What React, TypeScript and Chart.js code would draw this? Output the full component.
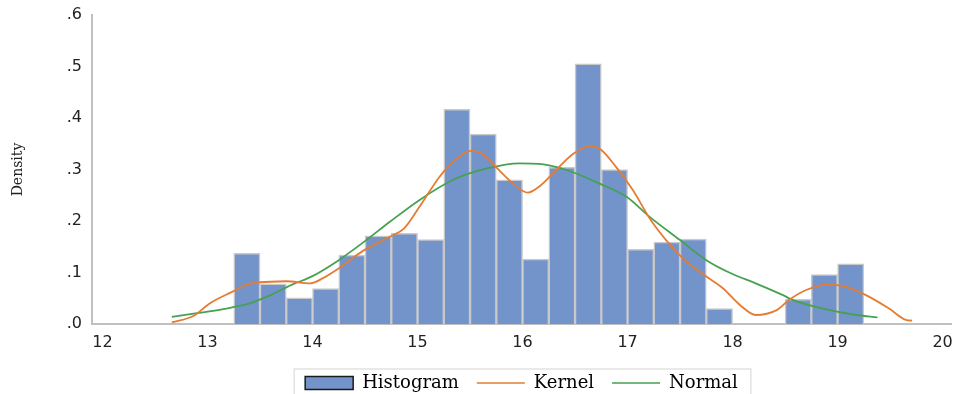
import React, { useEffect, useRef } from "react";
import { Chart, registerables } from "chart.js";

Chart.register(...registerables);

// Histogram bins (width 0.25), given by their centres
const binCenters = [
  13.375, 13.625, 13.875, 14.125, 14.375, 14.625, 14.875, 15.125,
  15.375, 15.625, 15.875, 16.125, 16.375, 16.625, 16.875, 17.125,
  17.375, 17.625, 17.875, 18.125, 18.375, 18.625, 18.875, 19.125,
];
const histDensity = [
  0.137, 0.078, 0.051, 0.069, 0.134, 0.171, 0.176, 0.164,
  0.417, 0.369, 0.28, 0.126, 0.304, 0.505, 0.3, 0.145,
  0.159, 0.165, 0.03, 0, 0, 0.048, 0.096, 0.117,
];

// Kernel density estimate
const kernelX = [
  12.66, 12.87, 13.02, 13.23, 13.4, 13.6, 13.75, 13.98, 14.1, 14.25,
  14.48, 14.74, 14.87, 15.02, 15.21, 15.34, 15.51, 15.62, 15.76, 15.91,
  16.05, 16.16, 16.32, 16.48, 16.65, 16.75, 16.89, 17.05, 17.23, 17.51,
  17.73, 17.91, 18.07, 18.22, 18.42, 18.54, 18.7, 18.92, 19.08, 19.27,
  19.49, 19.65, 19.71,
];
const kernelY = [
  0.003, 0.016, 0.04, 0.062, 0.078, 0.082, 0.083, 0.079, 0.089, 0.108,
  0.142, 0.17, 0.185, 0.228, 0.286, 0.315, 0.336, 0.33, 0.302, 0.273,
  0.255, 0.267, 0.299, 0.33, 0.346, 0.338, 0.305, 0.26, 0.199, 0.131,
  0.095, 0.069, 0.037, 0.0175, 0.027, 0.047, 0.066, 0.077, 0.072, 0.056,
  0.03, 0.008, 0.0065,
];

// Fitted normal density
const normalX = [
  12.66, 12.9, 13.15, 13.4, 13.6, 13.8, 14.0, 14.25, 14.48,
  14.74, 15.02, 15.34, 15.66, 15.97, 16.16, 16.42, 16.74, 16.99, 17.21,
  17.5, 17.75, 18.0, 18.22, 18.48, 18.57, 18.86, 19.18, 19.38,
];
const normalY = [
  0.014, 0.021, 0.029, 0.04, 0.056, 0.076, 0.093, 0.124, 0.158,
  0.199, 0.241, 0.28, 0.302, 0.312, 0.311, 0.299, 0.272, 0.247, 0.208,
  0.163, 0.124, 0.097, 0.079, 0.056, 0.047, 0.03, 0.0175, 0.013,
];

const xTickValues = [12, 13, 14, 15, 16, 17, 18, 19, 20];
const yTickValues = [0, 0.1, 0.2, 0.3, 0.4, 0.5, 0.6];
const legendLabels = ["Histogram", "Kernel", "Normal"];
const yAxisTitle = "Density";

const BAR_FILL = "#7393cb";
const BAR_EDGE = "#c9c9c9";
const KERNEL = "#e57c34";
const NORMAL = "#46a150";
const AXIS = "#c0c0c0";

// Thin frame around the legend row
const legendFrame = {
  id: "legendFrame",
  afterDraw(chart: any) {
    const lg = chart.legend;
    if (!lg || !lg.legendHitBoxes || !lg.legendHitBoxes.length) return;
    const boxes = lg.legendHitBoxes;
    const first = boxes[0];
    const last = boxes[boxes.length - 1];
    const left = first.left - 11;
    const right = last.left + last.width + 13;
    const top = first.top - 5;
    const ctx = chart.ctx;
    ctx.save();
    ctx.strokeStyle = "#e2e2e2";
    ctx.lineWidth = 1.5;
    ctx.strokeRect(left, top, right - left, chart.height - top + 20);
    ctx.restore();
  },
};

export default function App() {
  const canvasRef = useRef<HTMLCanvasElement | null>(null);

  useEffect(() => {
    if (!canvasRef.current) return;
    const chart = new Chart(canvasRef.current, {
      type: "bar",
      data: {
        datasets: [
          {
            type: "bar",
            label: legendLabels[0],
            data: binCenters.map((x, i) => ({ x, y: histDensity[i] })),
            backgroundColor: BAR_FILL,
            borderColor: BAR_EDGE,
            borderWidth: 1.5,
            barPercentage: 1,
            categoryPercentage: 1,
            order: 3,
          },
          {
            type: "line",
            label: legendLabels[1],
            data: kernelX.map((x, i) => ({ x, y: kernelY[i] })),
            borderColor: KERNEL,
            borderWidth: 1.8,
            pointRadius: 0,
            cubicInterpolationMode: "monotone",
            fill: false,
            order: 1,
          },
          {
            type: "line",
            label: legendLabels[2],
            data: normalX.map((x, i) => ({ x, y: normalY[i] })),
            borderColor: NORMAL,
            borderWidth: 1.8,
            pointRadius: 0,
            cubicInterpolationMode: "monotone",
            fill: false,
            order: 2,
          },
        ] as any,
      },
      options: {
        animation: false,
        responsive: false,
        devicePixelRatio: 1,
        events: [],
        layout: { padding: { top: 15, right: 5, left: 0, bottom: 0 } },
        scales: {
          x: {
            type: "linear",
            min: 11.9,
            max: 20.08,
            offset: false,
            grid: { display: false, drawTicks: false },
            border: { display: true, color: AXIS, width: 2 },
            afterBuildTicks: (scale: any) => {
              scale.ticks = xTickValues.map((v) => ({ value: v }));
            },
            afterFit: (scale: any) => {
              scale.height = 32;
              scale.paddingLeft = 0;
              scale.paddingRight = 0;
            },
            ticks: {
              padding: 9,
              color: "#222",
              font: { family: "DejaVu Sans", size: 16 },
              maxRotation: 0,
              autoSkip: false,
              callback: (v: any) => String(v),
            },
          },
          y: {
            min: 0,
            max: 0.6,
            grid: { display: false, drawTicks: false },
            border: { display: true, color: AXIS, width: 2 },
            afterBuildTicks: (scale: any) => {
              scale.ticks = yTickValues.map((v) => ({ value: v }));
            },
            afterFit: (scale: any) => {
              scale.width = 92;
              scale.paddingTop = 0;
              scale.paddingBottom = 0;
            },
            ticks: {
              padding: 10,
              color: "#222",
              font: { family: "DejaVu Sans", size: 16 },
              callback: (v: any) => Number(v).toFixed(1).replace(/^0/, ""),
            },
            title: {
              display: true,
              text: yAxisTitle,
              color: "#222",
              padding: { top: 10, bottom: 0 },
              font: { family: "DejaVu Serif", size: 14 },
            },
          },
        },
        plugins: {
          tooltip: { enabled: false },
          legend: {
            display: true,
            position: "bottom",
            fullSize: false,
            labels: {
              usePointStyle: true,
              pointStyleWidth: 48,
              boxHeight: 13,
              padding: 18,
              color: "#111",
              font: { family: "DejaVu Serif", size: 18 },
              generateLabels: () => [
                {
                  text: legendLabels[0],
                  fillStyle: BAR_FILL,
                  strokeStyle: "#1a1a1a",
                  lineWidth: 1.5,
                  pointStyle: "rect",
                  hidden: false,
                  datasetIndex: 0,
                },
                {
                  text: legendLabels[1],
                  fillStyle: KERNEL,
                  strokeStyle: KERNEL,
                  lineWidth: 1.6,
                  pointStyle: "line",
                  hidden: false,
                  datasetIndex: 1,
                },
                {
                  text: legendLabels[2],
                  fillStyle: NORMAL,
                  strokeStyle: NORMAL,
                  lineWidth: 1.6,
                  pointStyle: "line",
                  hidden: false,
                  datasetIndex: 2,
                },
              ],
            },
          },
        },
      } as any,
      plugins: [legendFrame],
    });
    return () => chart.destroy();
  }, []);

  return (
    <div
      style={{
        position: "fixed",
        left: 0,
        top: 0,
        width: 956,
        height: 394,
        overflow: "hidden",
        background: "#ffffff",
      }}
    >
      <canvas ref={canvasRef} width={956} height={402} style={{ display: "block" }} />
    </div>
  );
}
